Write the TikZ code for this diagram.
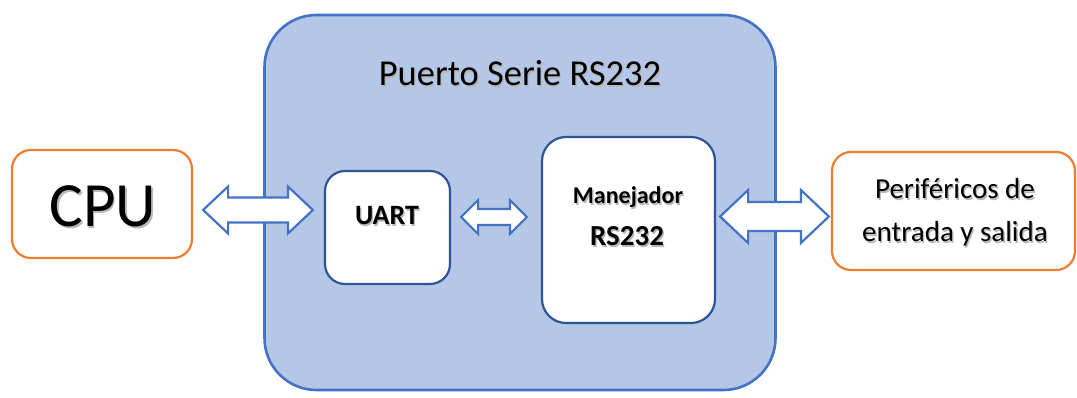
\documentclass[tikz,border=0pt]{standalone}
\usepackage{fontspec}
\setmainfont{Carlito}
\usetikzlibrary{calc}
\definecolor{portfill}{HTML}{B4C7E7}
\definecolor{portline}{HTML}{4472C4}
\definecolor{innerline}{HTML}{2F5597}
\definecolor{extline}{HTML}{ED7D31}
\definecolor{shade}{HTML}{B8B8B8}
\tikzset{
  portbox/.style={draw=portline, line width=2.6pt, fill=portfill, rounded corners=52pt, inner sep=0pt},
  innerbox/.style={draw=innerline, line width=2.2pt, fill=white, rounded corners=20pt, inner sep=0pt},
  extbox/.style={draw=extline, line width=2.2pt, fill=white, rounded corners=19pt, inner sep=0pt},
  blockarrow/.style={draw=portline, line width=2.2pt, fill=white, line join=miter},
  lbl/.style={inner sep=0pt, anchor=base, text=black},
}
% shadowed label: #1 position, #2 font, #3 text
\newcommand\shlabel[3]{%
  \node[lbl, text=shade] at ($#1+(1.3,1.3)$) {#2#3};
  \node[lbl] at #1 {#2#3};
}
% double block arrow: #1 left tip, #2 right tip, #3 head length, #4 head half height, #5 shaft half height
\newcommand\dblarrow[5]{%
  \draw[blockarrow]
    let \p1=#1, \p2=#2 in
    (\x1,\y1) -- (\x1+#3,\y1-#4) -- (\x1+#3,\y1-#5) -- (\x2-#3,\y1-#5) -- (\x2-#3,\y1-#4)
    -- (\x2,\y1) -- (\x2-#3,\y1+#4) -- (\x2-#3,\y1+#5) -- (\x1+#3,\y1+#5) -- (\x1+#3,\y1+#4) -- cycle;
}
\begin{document}
\begin{tikzpicture}[x=1pt,y=-1pt]
\useasboundingbox (0,0) rectangle (1077,398);

% serial port enclosure
\node[portbox, minimum width=511pt, minimum height=375pt] (port) at (520,202.5) {};
\shlabel{(520,86)}{\fontsize{36.5}{36.5}\selectfont}{Puerto Serie RS232}

% outer devices
\node[extbox, minimum width=180pt, minimum height=108pt] (cpu) at (102,204) {};
\shlabel{(103,227)}{\fontsize{63}{63}\selectfont}{CPU}
\node[extbox, minimum width=243pt, minimum height=118pt] (io) at (953.5,211) {};
\shlabel{(955,199)}{\fontsize{29}{29}\selectfont}{Periféricos de}
\shlabel{(955,242)}{\fontsize{29}{29}\selectfont}{entrada y salida}

% inner blocks
\node[innerbox, minimum width=125pt, minimum height=113pt] (uart) at (387.5,227.5) {};
\shlabel{(387,225)}{\fontsize{28}{28}\bfseries\selectfont}{UART}
\node[innerbox, rounded corners=24pt, minimum width=173pt, minimum height=186pt] (drv) at (628.5,230) {};
\shlabel{(628,204)}{\fontsize{24}{24}\bfseries\selectfont}{Manejador}
\shlabel{(627,246)}{\fontsize{29}{29}\bfseries\selectfont}{RS232}

% data paths
\coordinate (a1) at ($(cpu.east)+(10,6)$);
\coordinate (b1) at ($(uart.west)+(-11,-17.5)$);
\dblarrow{(a1)}{(b1 |- a1)}{25}{23.5}{12.5}
\coordinate (a2) at ($(uart.east)+(10,-10.5)$);
\coordinate (b2) at ($(drv.west)+(-14,0)$);
\dblarrow{(a2)}{(b2 |- a2)}{17}{17}{8}
\coordinate (a3) at ($(drv.east)+(4,-13.5)$);
\coordinate (b3) at ($(io.west)+(-2,0)$);
\dblarrow{(a3)}{(b3 |- a3)}{28}{26.5}{14.5}
\end{tikzpicture}
\end{document}
